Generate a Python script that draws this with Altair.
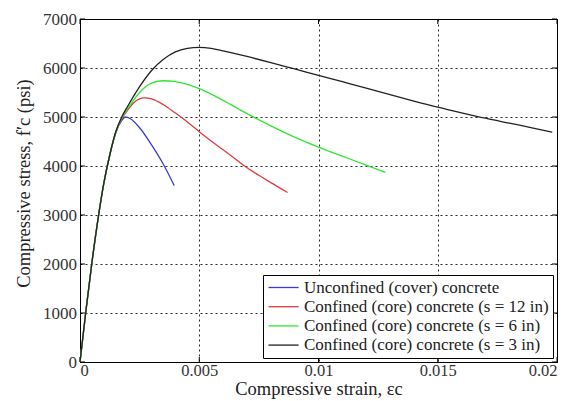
import altair as alt
import pandas as pd

series_names = [
    "Unconfined (cover) concrete",
    "Confined (core) concrete (s = 12 in)",
    "Confined (core) concrete (s = 6 in)",
    "Confined (core) concrete (s = 3 in)",
]
series_colors = ["#3a3ad8", "#e23a3a", "#30e630", "#222222"]

x_ticks = [0, 0.005, 0.01, 0.015, 0.02]
y_ticks = [0, 1000, 2000, 3000, 4000, 5000, 6000, 7000]

unconf_strain = [0, 0.00025, 0.0005, 0.00075, 0.001, 0.00125, 0.0015, 0.00175, 0.0019, 0.0021, 0.0025, 0.003, 0.0035, 0.00395]
unconf_stress = [0, 1050, 2030, 2900, 3650, 4230, 4680, 4930, 5000, 4970, 4780, 4430, 4030, 3600]

s12_strain = [0, 0.00025, 0.0005, 0.00075, 0.001, 0.00125, 0.0015, 0.00175, 0.002, 0.0023, 0.0027, 0.003, 0.0035, 0.004, 0.0045, 0.005, 0.0055, 0.006, 0.0065, 0.0069, 0.0075, 0.008, 0.0087]
s12_stress = [0, 1050, 2030, 2900, 3650, 4230, 4690, 4960, 5140, 5310, 5390, 5370, 5250, 5080, 4900, 4700, 4510, 4330, 4150, 4000, 3810, 3660, 3460]

s6_strain = [0, 0.00025, 0.0005, 0.00075, 0.001, 0.00125, 0.0015, 0.00175, 0.002, 0.0025, 0.003, 0.0035, 0.004, 0.005, 0.006, 0.007, 0.008, 0.009, 0.01, 0.011, 0.012, 0.0128]
s6_stress = [0, 1050, 2030, 2900, 3650, 4230, 4700, 4980, 5170, 5500, 5690, 5740, 5720, 5580, 5340, 5070, 4820, 4590, 4385, 4200, 4020, 3870]

s3_strain = [0, 0.00025, 0.0005, 0.00075, 0.001, 0.00125, 0.0015, 0.00175, 0.002, 0.0025, 0.003, 0.0035, 0.004, 0.0045, 0.005, 0.0055, 0.006, 0.007, 0.008, 0.009, 0.01, 0.011, 0.012, 0.013, 0.014, 0.015, 0.016, 0.017, 0.018, 0.019, 0.0198]
s3_stress = [0, 1050, 2030, 2900, 3650, 4230, 4700, 5000, 5220, 5620, 5950, 6180, 6330, 6400, 6420, 6400, 6350, 6235, 6110, 5980, 5850, 5720, 5590, 5455, 5325, 5200, 5085, 4975, 4875, 4775, 4690]

all_series = [
    (series_names[0], unconf_strain, unconf_stress),
    (series_names[1], s12_strain, s12_stress),
    (series_names[2], s6_strain, s6_stress),
    (series_names[3], s3_strain, s3_stress),
]
rows = []
for k, (name, xs, ys) in enumerate(all_series):
    for x, y in zip(xs, ys):
        rows.append({"series": name, "strain": x, "stress": y, "k": k})
df = pd.DataFrame(rows)
xt_df = pd.DataFrame({"strain": x_ticks})
yt_df = pd.DataFrame({"stress": y_ticks})

FONT = "Liberation Serif"
W, H = 477, 343
TL = 5

x_scale = alt.Scale(domain=[0, 0.02], nice=False)
y_scale = alt.Scale(domain=[0, 7000], nice=False)

lines = alt.Chart(df).mark_line(strokeWidth=1.3, interpolate="monotone").encode(
    x=alt.X(
        "strain:Q",
        scale=x_scale,
        axis=alt.Axis(values=x_ticks, format=".3~f", title="Compressive strain, εc",
                      labelPadding=0.5, labelFontSize=16.5,
                      titleY=32, titleBaseline="alphabetic"),
    ),
    y=alt.Y(
        "stress:Q",
        scale=y_scale,
        axis=alt.Axis(values=y_ticks, format="d", title="Compressive stress, f′c (psi)",
                      labelPadding=3.5, titleX=-50.5, titleY=164, titleBaseline="alphabetic",
                      titleAlign="center", titleAngle=270),
    ),
    color=alt.Color(
        "series:N",
        scale=alt.Scale(domain=series_names, range=series_colors),
        sort=series_names,
        legend=alt.Legend(
            title=None, orient="bottom-right", offset=4,
            strokeColor="black", fillColor="white", padding=4,
            symbolType="M-1,0H3.3", symbolSize=196, symbolStrokeWidth=1.3,
            labelFont=FONT, labelFontSize=17, labelColor="#222",
            labelOffset=20, rowPadding=1.2, labelLimit=400,
        ),
    ),
    detail="k:N",
)

tick_style = dict(color="black", strokeWidth=1)
bottom_ticks = alt.Chart(xt_df).mark_rule(**tick_style).encode(
    x=alt.X("strain:Q", scale=x_scale), y=alt.value(H), y2=alt.value(H - TL))
top_ticks = alt.Chart(xt_df).mark_rule(**tick_style).encode(
    x=alt.X("strain:Q", scale=x_scale), y=alt.value(0), y2=alt.value(TL))
left_ticks = alt.Chart(yt_df).mark_rule(**tick_style).encode(
    y=alt.Y("stress:Q", scale=y_scale), x=alt.value(0), x2=alt.value(TL))
right_ticks = alt.Chart(yt_df).mark_rule(**tick_style).encode(
    y=alt.Y("stress:Q", scale=y_scale), x=alt.value(W), x2=alt.value(W - TL))

chart = alt.layer(bottom_ticks, top_ticks, left_ticks, right_ticks, lines).properties(
    width=W,
    height=H,
    background="white",
    autosize=alt.AutoSizeParams(type="none"),
    padding={"left": 80, "top": 19, "right": 16, "bottom": 39},
).configure_view(
    stroke="black", strokeWidth=1
).configure_axis(
    labelFont=FONT, labelFontSize=17, labelColor="#333",
    titleFont=FONT, titleFontSize=18.5, titleFontWeight="normal", titleColor="#222",
    grid=True, gridColor="black", gridDash=[2, 3], gridOpacity=0.85, gridWidth=1,
    domainColor="black", ticks=False,
)

chart.save("out.html", embed_options={"renderer": "svg", "actions": False})
